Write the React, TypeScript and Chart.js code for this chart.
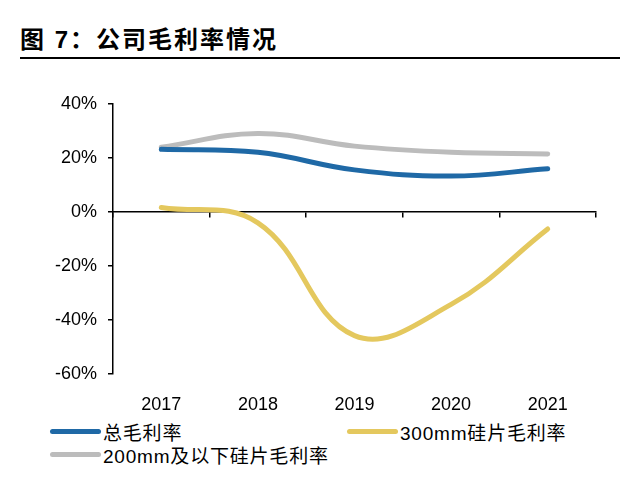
import React, { useEffect, useRef } from "react";
import { Chart, registerables } from "chart.js";

Chart.register(...registerables);

const years = ["2017", "2018", "2019", "2020", "2021"];
const totalMargin = [23.2, 22.1, 15.6, 13.3, 16.0];
const margin300 = [1.7, -4.0, -45.8, -34.2, -6.3];
const margin200 = [24.0, 29.1, 24.4, 22.1, 21.5];
const yTicks = [-60, -40, -20, 0, 20, 40];

const seriesNames = ["总毛利率", "300mm硅片毛利率", "200mm及以下硅片毛利率"];
const seriesColors = ["#1f69a6", "#e4c85e", "#bcbcbc"];

const FONT = '"Liberation Sans", Arial, "Noto Sans CJK SC", sans-serif';

const LegendItem: React.FC<{ name: string; color: string; left: number; top: number }> = ({
	name,
	color,
	left,
	top,
}) => (
	<div
		style={{
			position: "absolute",
			left,
			top,
			display: "flex",
			alignItems: "center",
			height: 22,
			fontFamily: FONT,
			fontSize: 19,
			letterSpacing: 0.8,
			color: "#000",
			whiteSpace: "nowrap",
		}}
	>
		<span
			style={{
				display: "inline-block",
				width: 51,
				height: 5,
				borderRadius: 3,
				background: color,
				marginRight: 2,
			}}
		/>
		<span>{name}</span>
	</div>
);

const App: React.FC = () => {
	const chartRef = useRef<HTMLCanvasElement>(null);
	const chartInstance = useRef<Chart>();

	useEffect(() => {
		if (!chartRef.current) return;
		const ctx = chartRef.current.getContext("2d");
		if (!ctx) return;

		const makeSet = (label: string, data: number[], color: string) => ({
			label,
			data,
			borderColor: color,
			backgroundColor: color,
			borderWidth: 5,
			borderCapStyle: "round" as const,
			pointRadius: 0,
			tension: 0.4,
			fill: false,
		});

		chartInstance.current = new Chart(ctx, {
			type: "line",
			data: {
				labels: years,
				datasets: [
					makeSet(seriesNames[0], totalMargin, seriesColors[0]),
					makeSet(seriesNames[1], margin300, seriesColors[1]),
					makeSet(seriesNames[2], margin200, seriesColors[2]),
				],
			},
			options: {
				animation: false,
				responsive: false,
				maintainAspectRatio: false,
				layout: {
					padding: { left: 53, right: 44, top: 104, bottom: 0 },
				},
				scales: {
					x: {
						type: "category",
						position: { y: 0 },
						offset: true,
						grid: {
							offset: true,
							drawOnChartArea: false,
							drawTicks: true,
							tickLength: 5,
							color: "#000",
							lineWidth: 1.5,
						},
						border: { display: true, color: "#000", width: 1.5 },
						ticks: { display: false },
					},
					x2: {
						type: "category",
						position: "bottom",
						labels: years,
						offset: true,
						grid: { display: false },
						border: { display: false },
						ticks: {
							color: "#000",
							padding: 12,
							font: { family: FONT, size: 18 },
						},
						afterFit: (scale) => {
							scale.height = 40;
						},
					},
					y: {
						min: -60,
						max: 40,
						afterBuildTicks: (scale) => {
							scale.ticks = yTicks.map((v) => ({ value: v }));
						},
						grid: {
							drawOnChartArea: false,
							drawTicks: true,
							tickLength: 5,
							color: "#000",
							lineWidth: 1.5,
						},
						border: { display: true, color: "#000", width: 1.5 },
						ticks: {
							color: "#000",
							padding: 11,
							font: { family: FONT, size: 18 },
							callback: (v) => `${v}%`,
						},
						afterFit: (scale) => {
							scale.width = 60;
						},
					},
				},
				plugins: {
					legend: { display: false },
					tooltip: { enabled: false },
				},
			},
		});

		return () => {
			if (chartInstance.current) {
				chartInstance.current.destroy();
			}
		};
	}, []);

	return (
		<div
			style={{
				position: "fixed",
				left: 0,
				top: 0,
				width: 640,
				height: 481,
				background: "#fff",
				overflow: "hidden",
			}}
		>
			<div
				style={{
					position: "absolute",
					left: 20,
					top: 26,
					fontFamily: FONT,
					fontSize: 24,
					fontWeight: "bold",
					lineHeight: "28px",
					letterSpacing: 2,
					color: "#000",
					whiteSpace: "nowrap",
				}}
			>
				图 7：公司毛利率情况
			</div>
			<div
				style={{
					position: "absolute",
					left: 20,
					top: 57,
					width: 600,
					height: 2,
					background: "#000",
				}}
			/>
			<canvas
				ref={chartRef}
				width={640}
				height={414}
				style={{ position: "absolute", left: 0, top: 0, width: 640, height: 414 }}
			/>
			<LegendItem name={seriesNames[0]} color={seriesColors[0]} left={50} top={420} />
			<LegendItem name={seriesNames[1]} color={seriesColors[1]} left={347} top={420} />
			<LegendItem name={seriesNames[2]} color={seriesColors[2]} left={50} top={443} />
		</div>
	);
};

export default App;
